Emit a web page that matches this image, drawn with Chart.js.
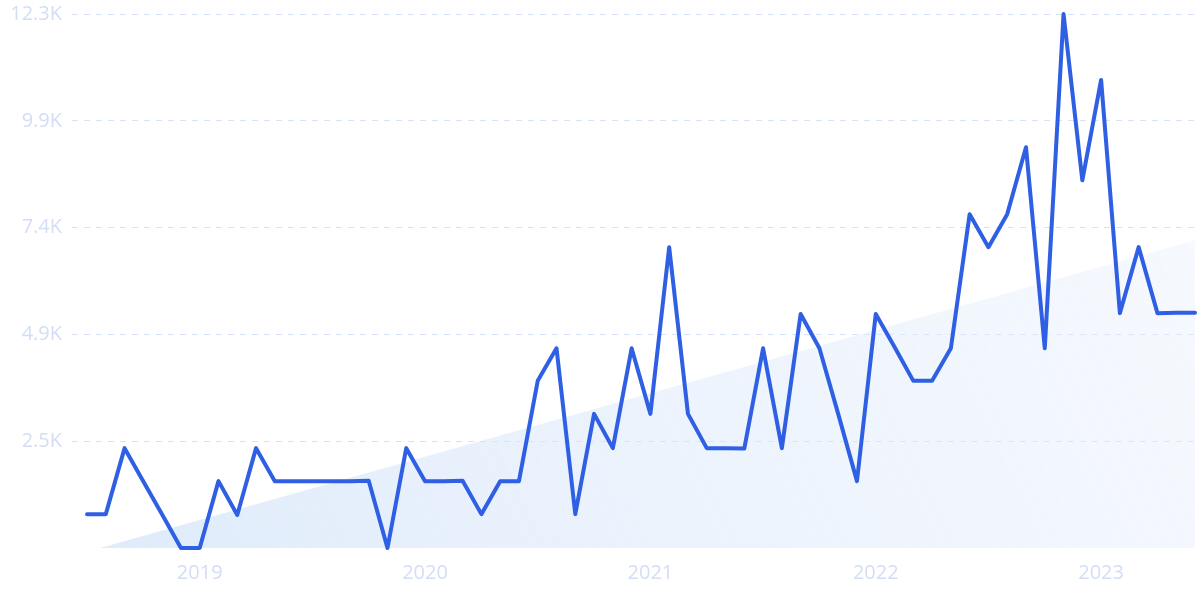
<!DOCTYPE html>
<html>
<head>
<meta charset="utf-8">
<script src="https://cdn.jsdelivr.net/npm/chart.js@4.4.0/dist/chart.umd.min.js"></script>
<style>
  html, body { margin: 0; padding: 0; background: #ffffff; }
  #wrap { width: 1200px; height: 600px; position: relative; }
</style>
</head>
<body>
<div id="wrap"><canvas id="c" width="1200" height="600"></canvas></div>
<script>
// Monthly categories, Jul 2018 .. Jun 2023
const categories = [
  "2018-07","2018-08","2018-09","2018-10","2018-11","2018-12",
  "2019-01","2019-02","2019-03","2019-04","2019-05","2019-06","2019-07","2019-08","2019-09","2019-10","2019-11","2019-12",
  "2020-01","2020-02","2020-03","2020-04","2020-05","2020-06","2020-07","2020-08","2020-09","2020-10","2020-11","2020-12",
  "2021-01","2021-02","2021-03","2021-04","2021-05","2021-06","2021-07","2021-08","2021-09","2021-10","2021-11","2021-12",
  "2022-01","2022-02","2022-03","2022-04","2022-05","2022-06","2022-07","2022-08","2022-09","2022-10","2022-11","2022-12",
  "2023-01","2023-02","2023-03","2023-04","2023-05","2023-06"
];
const values = [
  780, 780, 2300, 1530, 770, 0,
  0, 1540, 760, 2300, 1540, 1540, 1540, 1540, 1540, 1550, 0, 2300,
  1540, 1540, 1550, 780, 1540, 1540, 3850, 4600, 780, 3090, 2300, 4600,
  3090, 6930, 3090, 2300, 2300, 2290, 4600, 2300, 5390, 4600, 3090, 1540,
  5390, 4630, 3850, 3850, 4600, 7690, 6930, 7690, 9230, 4600, 12300, 8470,
  10780, 5410, 6930, 5410, 5420, 5420
];
// Trend (shaded) from start to end
const trendX = [0.7, 59];
const trendY = [0, 7090];
// Axis ticks
const yTickValues = [0, 2460, 4920, 7380, 9840, 12300];
const yTickLabels = ["", "2.5K", "4.9K", "7.4K", "9.9K", "12.3K"];
const xTickLabels = ["2019", "2020", "2021", "2022", "2023"];

const lineData = values.map((v, i) => ({ x: i, y: v }));
const trendData = trendX.map((x, i) => ({ x: x, y: trendY[i] }));
const xTickPositions = xTickLabels.map(y => categories.indexOf(y + "-01"));

const tickFont = { family: "'Open Sans', 'Noto Sans', sans-serif", size: 20 };
const tickColor = "#d3ddf5";

new Chart(document.getElementById("c"), {
  type: "line",
  data: {
    datasets: [
      {
        data: lineData,
        borderColor: "#2f5fe3",
        borderWidth: 4,
        pointRadius: 0,
        tension: 0,
        borderJoinStyle: "round",
        borderCapStyle: "round",
        fill: false,
        clip: false,
        order: 1
      },
      {
        data: trendData,
        borderWidth: 0,
        borderColor: "rgba(0,0,0,0)",
        pointRadius: 0,
        fill: "origin",
        order: 2,
        backgroundColor: (ctx) => {
          const ca = ctx.chart.chartArea;
          if (!ca) return "rgba(220,232,250,0.6)";
          const g = ctx.chart.ctx.createLinearGradient(ca.left, ca.bottom, ca.right, ca.top);
          g.addColorStop(0, "rgba(205,224,248,0.65)");
          g.addColorStop(1, "rgba(232,240,253,0.35)");
          return g;
        }
      }
    ]
  },
  options: {
    responsive: false,
    animation: false,
    layout: { padding: { top: 14, right: 5, left: 0, bottom: 0 } },
    plugins: { legend: { display: false }, tooltip: { enabled: false } },
    scales: {
      x: {
        type: "linear",
        min: -0.8,
        max: 59,
        grid: { display: false },
        border: { display: false },
        afterBuildTicks: (scale) => { scale.ticks = xTickPositions.map(v => ({ value: v })); },
        afterFit: (scale) => { scale.height = 52; scale.paddingLeft = 0; scale.paddingRight = 0; },
        ticks: {
          autoSkip: false,
          maxRotation: 0,
          padding: 5,
          color: tickColor,
          font: tickFont,
          callback: (v) => {
            const k = xTickPositions.indexOf(v);
            return k >= 0 ? xTickLabels[k] : "";
          }
        }
      },
      y: {
        min: 0,
        max: 12300,
        border: { display: false, dash: [6, 6] },
        afterBuildTicks: (scale) => { scale.ticks = yTickValues.map(v => ({ value: v })); },
        afterFit: (scale) => { scale.width = 72; scale.paddingTop = 0; scale.paddingBottom = 0; },
        grid: {
          color: (ctx) => (ctx.tick && ctx.tick.value === 0) ? "rgba(0,0,0,0)" : "#d6e2f8",
          lineWidth: 1,
          drawTicks: false
        },
        ticks: {
          padding: 10,
          color: tickColor,
          font: tickFont,
          callback: (v) => {
            const k = yTickValues.indexOf(v);
            return k >= 0 ? yTickLabels[k] : "";
          }
        }
      }
    }
  }
});
</script>
</body>
</html>
